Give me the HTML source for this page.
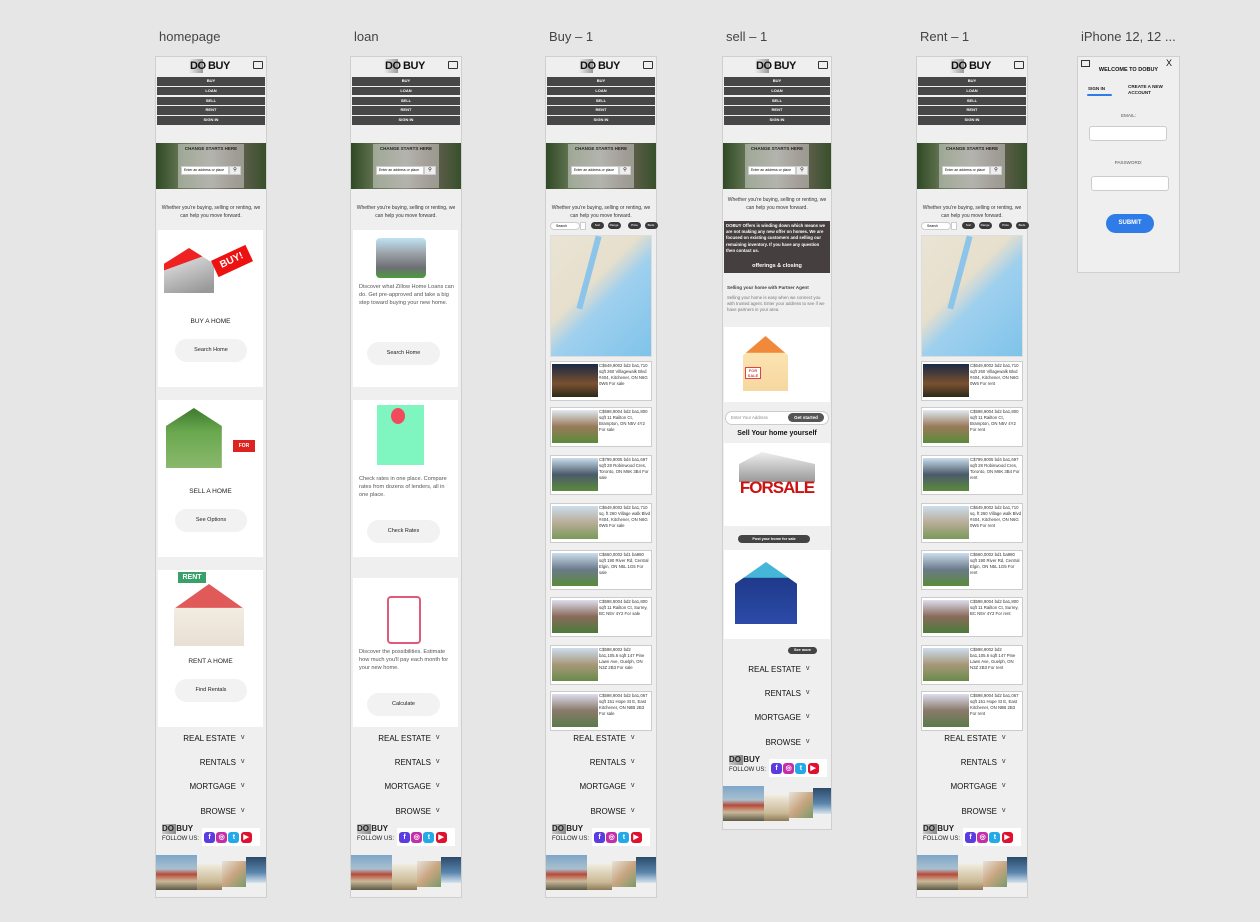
<!DOCTYPE html>
<html><head><meta charset="utf-8">
<style>
html,body{margin:0;padding:0;width:1260px;height:922px;overflow:hidden;background:#e6e6e6;font-family:"Liberation Sans",sans-serif;}
#c{position:relative;width:1260px;height:922px;}
.a{position:absolute;box-sizing:border-box;}
</style></head>
<body>
<div id="c"></div>
<script>
const C=document.getElementById('c');
function box(x,y,w,h,css,name,text,inter){
  const e=document.createElement('div');
  e.className='a';
  e.style.cssText=`left:${x}px;top:${y}px;width:${w}px;height:${h}px;`+(css||'');
  if(text!==undefined){e.textContent=text;}
  
  
  C.appendChild(e);return e;
}
const frameTitles=['homepage','loan','Buy – 1','sell – 1','Rent – 1','iPhone 12, 12 ...'];
const frameX=[156,351,546,723,917,1078];
const frameBottom=[898,898,898,830,898,273];
const frameW=[110,110,110,108,110,101];

function header(x,w,tagY){
  box(x+w/2-22,59,14,14,'background:linear-gradient(90deg,#eee,#999);','logo-do-bg');
  box(x+w/2-21,59,50,14,'font:bold 11px "Liberation Sans";color:#111;letter-spacing:-0.5px;line-height:14px;','logo','DO BUY');
  box(x+w-13,61,10,8,'border:1.5px solid #333;border-radius:1px;','desktop-icon');
  const nav=['BUY','LOAN','SELL','RENT','SIGN IN'];
  nav.forEach((n,i)=>{
    box(x+1,77+i*9.8,w-2,8.5,'background:#474747;color:#fff;font:bold 4px "Liberation Sans";text-align:center;line-height:8.5px;','nav-'+n.toLowerCase().replace(' ','-'),n,true);
  });
  box(x,143,w,46,'background:linear-gradient(90deg,#2f4a24 0%,#6b7a5a 25%,#8a8a80 50%,#6d6358 70%,#37502a 100%);','hero-image');
  box(x+22,144,w-44,44,'background:rgba(230,230,230,0.45);','hero-overlay');
  box(x,146,w,8,'font:bold 4.5px "Liberation Sans";color:#222;text-align:center;','hero-title','CHANGE STARTS HERE');
  box(x+25,166,48,9,'background:#fff;border:1px solid #ccc;font:3.5px "Liberation Sans";line-height:7px;padding-left:2px;','hero-search-input','Enter an address or place',true);
  box(x+73,166,12,9,'background:#eee;border:1px solid #ccc;font:5px "Liberation Sans";text-align:center;line-height:7px;','hero-search-button','⚲',true);
  box(x+3,tagY,w-6,18,'font:5px "Liberation Sans";color:#333;text-align:center;line-height:8px;white-space:normal;','tagline',"Whether you're buying, selling or renting, we can help you move forward.");
}
function footer(x,w,y0){
  const items=['REAL ESTATE','RENTALS','MORTGAGE','BROWSE'];
  items.forEach((n,i)=>{
    box(x,y0+i*24.2,w-30,10,'font:8px "Liberation Sans";color:#111;text-align:right;','footer-'+n.toLowerCase().replace(' ','-'),n,true);
    box(x+w-25,y0+i*24.2,8,10,'font:7px "Liberation Sans";color:#333;','footer-chevron','v',true);
  });
  const ly=y0+90;
  box(x+6,ly,14,10,'background:linear-gradient(90deg,#ccc,#888);','footer-logo-bg');
  box(x+6,ly,34,10,'font:bold 8px "Liberation Sans";color:#222;','footer-logo','DO BUY');
  box(x+6,ly+12,40,8,'font:6px "Liberation Sans";color:#222;','follow-us','FOLLOW US:');
  box(x+46,ly+4,58,18,'background:#fff;','social-bg');
  const cols=['#5b3ce0','#c42fa8','#23a8e8','#e0102f'];
  const names=['facebook-icon','instagram-icon','twitter-icon','youtube-icon'];
  cols.forEach((c,i)=>{
    box(x+48+i*12.2,ly+8,11,11,`background:${c};border-radius:3px;color:#fff;font:bold 7px "Liberation Sans";text-align:center;line-height:11px;`,names[i],['f','◎','t','▶'][i],true);
  });
  const iy=ly+31;
  box(x,iy,41,35,'background:linear-gradient(180deg,#7fa6c9 0%,#a9c0cf 40%,#b84a3a 55%,#cbb89a 75%,#5b5a45 100%);','footer-image-1');
  box(x+41,iy+9,25,26,'background:linear-gradient(180deg,#f0ecdf,#c9b894 70%,#8c7a5a);','footer-image-2');
  box(x+66,iy+6,24,26,'background:linear-gradient(135deg,#e8e2d8,#c8a580 50%,#7a9a6a);','footer-image-3');
  box(x+90,iy+2,w-90,26,'background:linear-gradient(180deg,#2b4a6a,#5b86ad 60%,#d8e4ee);','footer-image-4');
}
frameX.forEach((x,i)=>{
  box(x+3,29,120,18,'font:13px "Liberation Sans";color:#444;','frame-title',frameTitles[i]);
  box(x-1,56,frameW[i]+2,frameBottom[i]-56,'background:#efefef;border:1px solid #cfcfcf;','frame-'+i);
});
[0,1,2,4].forEach(i=>{header(frameX[i],frameW[i],204);footer(frameX[i],frameW[i],734);});
header(723,108,196);footer(723,108,665);

/* homepage cards */
(function(){
  const x=158,w=105;
  const cards=[[230,157,'BUY A HOME','Search Home'],[400,157,'SELL A HOME','See Options'],[570,157,'RENT A HOME','Find Rentals']];
  cards.forEach((c,i)=>{
    box(x,c[0],w,c[1],'background:#fff;','home-card-'+i);
    if(i===0){
      box(x+6,c[0]+18,50,45,'background:linear-gradient(160deg,#e22 0%,#e22 35%,#cfcfcf 36%,#999 90%);clip-path:polygon(50% 0,100% 35%,100% 100%,0 100%,0 35%);','buy-house-image');
      box(x+55,c[0]+22,38,18,'background:#e11;color:#fff;font:bold 10px "Liberation Sans";text-align:center;line-height:18px;transform:rotate(-25deg);','buy-sign','BUY!');
    } else if(i===1){
      box(x+8,c[0]+8,62,60,'background:linear-gradient(180deg,#3e7a2e 0%,#6aa84f 40%,#8ab86c 100%);clip-path:polygon(45% 0,90% 30%,90% 100%,0 100%,0 30%);','sell-house-image');
      box(x+75,c[0]+40,22,12,'background:#d22;color:#fff;font:bold 5px "Liberation Sans";text-align:center;line-height:12px;','for-sale-sign','FOR SALE');
    } else {
      box(x+20,c[0]+2,28,11,'background:#3aa06b;color:#fff;font:bold 7px "Liberation Sans";text-align:center;line-height:11px;','rent-sign','RENT');
      box(x+16,c[0]+14,70,62,'background:linear-gradient(180deg,#e05a5a 0%,#e05a5a 38%,#f2ece2 39%,#e8e0d4 100%);clip-path:polygon(50% 0,100% 40%,100% 100%,0 100%,0 40%);','rent-house-image');
    }
    box(x,c[0]+88,w,10,'font:6.5px "Liberation Sans";color:#222;text-align:center;','card-title',c[2]);
    box(x+17,c[0]+109,72,23,'background:#f2f2f2;border-radius:12px;font:5.5px "Liberation Sans";text-align:center;line-height:23px;color:#222;','card-button',c[3],true);
  });
})();
/* loan cards */
(function(){
  const x=353,w=105;
  const cards=[[230,157],[400,157],[578,149]];
  const texts=['Discover what Zillow Home Loans can do. Get pre-approved and take a big step toward buying your new home.','Check rates in one place. Compare rates from dozens of lenders, all in one place.','Discover the possibilities. Estimate how much you\'ll pay each month for your new home.'];
  const btns=['Search Home','Check Rates','Calculate'];
  const ty=[283,475,648],by=[342,520,693];
  cards.forEach((c,i)=>{
    box(x,c[0],w,c[1],'background:#fff;','loan-card-'+i);
    box(x+6,ty[i],w-10,40,'font:5.6px "Liberation Sans";color:#555;line-height:8px;white-space:normal;','loan-card-text',texts[i]);
    box(x+14,by[i],73,23,'background:#f2f2f2;border-radius:12px;font:5.5px "Liberation Sans";text-align:center;line-height:23px;color:#222;','loan-card-button',btns[i],true);
  });
  box(x+23,238,50,40,'background:linear-gradient(180deg,#bfe3f4 0%,#9aa0a6 40%,#6b6f74 75%,#4c9a3c 100%);border-radius:4px;','bank-image');
  box(x+24,405,47,60,'background:#7ff5c0;','rates-image');
  box(x+38,408,14,16,'background:#f24b5b;border-radius:50%;','balloon');
  box(x+34,596,34,48,'border:2px solid #e05a7a;border-radius:4px;','calculator-image');
})();
/* listings for buy & rent */
function listings(x,rent){
  box(x+4,222,30,8,'background:#fff;border:1px solid #ccc;border-radius:4px;font:3.5px "Liberation Sans";line-height:6px;padding-left:5px;','search-input','Search',true);
  box(x+34,222,6,8,'background:#fff;border:1px solid #ccc;font:4px sans-serif;','search-icon','',true);
  ['Sort','Range','Price','Beds'].forEach((f,i)=>{
    box(x+45+i*16.5+(i>1?4:0),222,13,7,'background:#3a3a3a;border-radius:4px;color:#fff;font:3px "Liberation Sans";text-align:center;line-height:7px;','filter-pill',f,true);
  });
  box(x+4,235,102,122,'background:linear-gradient(135deg,#eae4d6 0%,#e6dfcc 40%,#9fd0ee 55%,#7fc3ea 100%);border:1px solid #ddd;','map');
  box(x+40,235,6,75,'background:#8dc5ea;transform:rotate(15deg);','map-river');
  const ys=[361,407,455,503,550,597,645,691];
  const txt=['C$649,9002 bd2 ba1,710 sqft 260 Villagewalk Blvd #404, Kitchener, ON N6G 0W6','C$598,9004 bd2 ba1,800 sqft 11 Railton Ct, Brampton, ON N5V 4Y2','C$799,9005 bd4 ba1,697 sqft 28 Robinwood Cres, Toronto, ON M6K 3B4','C$649,9002 bd2 ba1,710 sq. ft 260 Village walk Blvd #404, Kitchener, ON N6G 0W6','C$660,0002 bd1 ba980 sqft 190 River Rd, Central Elgin, ON N5L 1G5','C$598,9004 bd2 ba1,800 sqft 11 Railton Ct, Surrey, BC N5V 4Y2','C$598,9002 bd2 ba1,105.6 sqft 147 Pine Lawn Ave, Guelph, ON N3Z 2B3','C$598,9004 bd2 ba1,067 sqft 151 Hope St E, East Kitchener, ON N8B 2B3'];
  const img=['linear-gradient(180deg,#1a2a44,#7a5030 60%,#2a2a1a)','linear-gradient(180deg,#dfe9f2,#9a7a5a 50%,#5a8a3a)','linear-gradient(180deg,#cde,#4a5a6a 50%,#5a8a3a)','linear-gradient(180deg,#cde,#b9ad98 50%,#7a9a5a)','linear-gradient(180deg,#cde,#6a7a8a 50%,#5a8a3a)','linear-gradient(180deg,#dde,#8a6a5a 50%,#4a7a3a)','linear-gradient(180deg,#cde,#a8987a 50%,#6a8a4a)','linear-gradient(180deg,#dde,#8a7a6a 50%,#5a7a4a)'];
  ys.forEach((y,i)=>{
    box(x+4,y,102,40,'background:#fff;border:1px solid #ccc;','listing-card',undefined,true);
    box(x+6,y+3,46,33,'background:'+img[i]+';','listing-photo');
    box(x+53,y+2,52,36,'font:4.3px "Liberation Sans";color:#333;line-height:6px;white-space:normal;overflow:hidden;','listing-text',txt[i]+(rent?' For rent':' For sale'));
  });
}
listings(546,false);listings(917,true);
/* sell page */
(function(){
  const x=723,w=108;
  box(x+1,221,w-2,52,'background:#463f3f;','offer-banner');
  box(x+3,223,w-6,40,'font:bold 4.3px "Liberation Sans";color:#fff;line-height:6.2px;white-space:normal;','offer-text','DOBUY Offers is winding down which means we are not making any new offer on homes. We are focused on existing customers and selling our remaining inventory. If you have any question then contact us.');
  box(x,263,w,8,'font:bold 5.5px "Liberation Sans";color:#fff;text-align:center;','offer-subtitle','offerings & closing');
  box(x+4,285,w-6,8,'font:bold 4.6px "Liberation Sans";color:#444;','partner-title','Selling your home with Partner Agent');
  box(x+4,295,w-6,28,'font:4.4px "Liberation Sans";color:#777;line-height:6px;white-space:normal;','partner-text','Selling your home is easy when we connect you with trusted agent. Enter your address to see if we have partners in your area.');
  box(x+1,327,w-2,75,'background:#fff;','partner-image-bg');
  box(x+20,336,45,55,'background:linear-gradient(180deg,#f08a3a 0%,#f08a3a 30%,#fbe3b0 31%,#f6d7a0 100%);clip-path:polygon(50% 0,100% 35%,100% 100%,0 100%,0 35%);','partner-house');
  box(x+22,367,16,12,'background:#fff;border:1px solid #d44;color:#d44;font:bold 4px sans-serif;text-align:center;','for-sale-sign','FOR SALE');
  box(x+2,411,w-4,14,'background:#fff;border:1px solid #ccc;border-radius:7px;font:4.3px "Liberation Sans";color:#888;line-height:12px;padding-left:5px;','address-input','Enter Your Address',true);
  box(x+65,413,36,9,'background:#555;border-radius:5px;color:#fff;font:bold 4.5px "Liberation Sans";text-align:center;line-height:9px;','get-started-button','Get started',true);
  box(x,430,w,10,'font:bold 7px "Liberation Sans";color:#111;text-align:center;','sell-yourself-title','Sell Your home yourself');
  box(x+1,443,w-2,83,'background:#fff;','forsale-image-bg');
  box(x+16,452,76,30,'background:linear-gradient(180deg,#eee,#999);clip-path:polygon(30% 0,100% 40%,100% 100%,0 100%,0 40%);','forsale-roof');
  box(x+14,478,80,30,'color:#c11;font:bold 17px "Liberation Sans";text-align:center;letter-spacing:-1px;','forsale-text','FORSALE');
  box(x+15,535,72,8,'background:#444;border-radius:4px;color:#fff;font:bold 3.8px "Liberation Sans";text-align:center;line-height:8px;','post-home-button','Post your home for sale',true);
  box(x+1,550,w-2,89,'background:#fff;','family-image-bg');
  box(x+12,562,62,62,'background:linear-gradient(180deg,#45b6d8 0%,#45b6d8 25%,#1f3a8a 26%,#2c4aa8 100%);clip-path:polygon(50% 0,100% 35%,100% 100%,0 100%,0 35%);','family-house');
  box(x+65,647,29,7,'background:#444;border-radius:4px;color:#fff;font:bold 3.8px "Liberation Sans";text-align:center;line-height:7px;','see-more-button','See more',true);
})();
/* iPhone sign-in */
(function(){
  const x=1078;
  box(x+3,60,9,7,'border:1.3px solid #333;','desktop-icon');
  box(x+88,58,10,10,'font:9px "Liberation Sans";color:#111;','close-button','X',true);
  box(x,67,101,9,'font:bold 5.5px "Liberation Sans";color:#111;text-align:center;','signin-title','WELCOME TO DOBUY');
  box(x+10,86,25,8,'font:bold 4.6px "Liberation Sans";color:#222;','signin-tab','SIGN IN',true);
  box(x+9,94,25,2,'background:#2f7be8;border-radius:1px;','signin-tab-underline');
  box(x+50,84,45,16,'font:bold 4.6px "Liberation Sans";color:#222;line-height:6px;white-space:normal;','create-account-tab','CREATE A NEW ACCOUNT',true);
  box(x,113,101,8,'font:4.6px "Liberation Sans";color:#555;text-align:center;','email-label','EMAIL:');
  box(x+11,126,78,15,'background:#fff;border:1px solid #ccc;border-radius:3px;','email-input','',true);
  box(x,160,101,8,'font:4.6px "Liberation Sans";color:#555;text-align:center;','password-label','PASSWORD:');
  box(x+13,176,78,15,'background:#fff;border:1px solid #ccc;border-radius:3px;','password-input','',true);
  box(x+28,214,48,19,'background:#2f7be8;border-radius:10px;color:#fff;font:bold 6px "Liberation Sans";text-align:center;line-height:19px;','submit-button','SUBMIT',true);
})();
</script>
</body></html>
